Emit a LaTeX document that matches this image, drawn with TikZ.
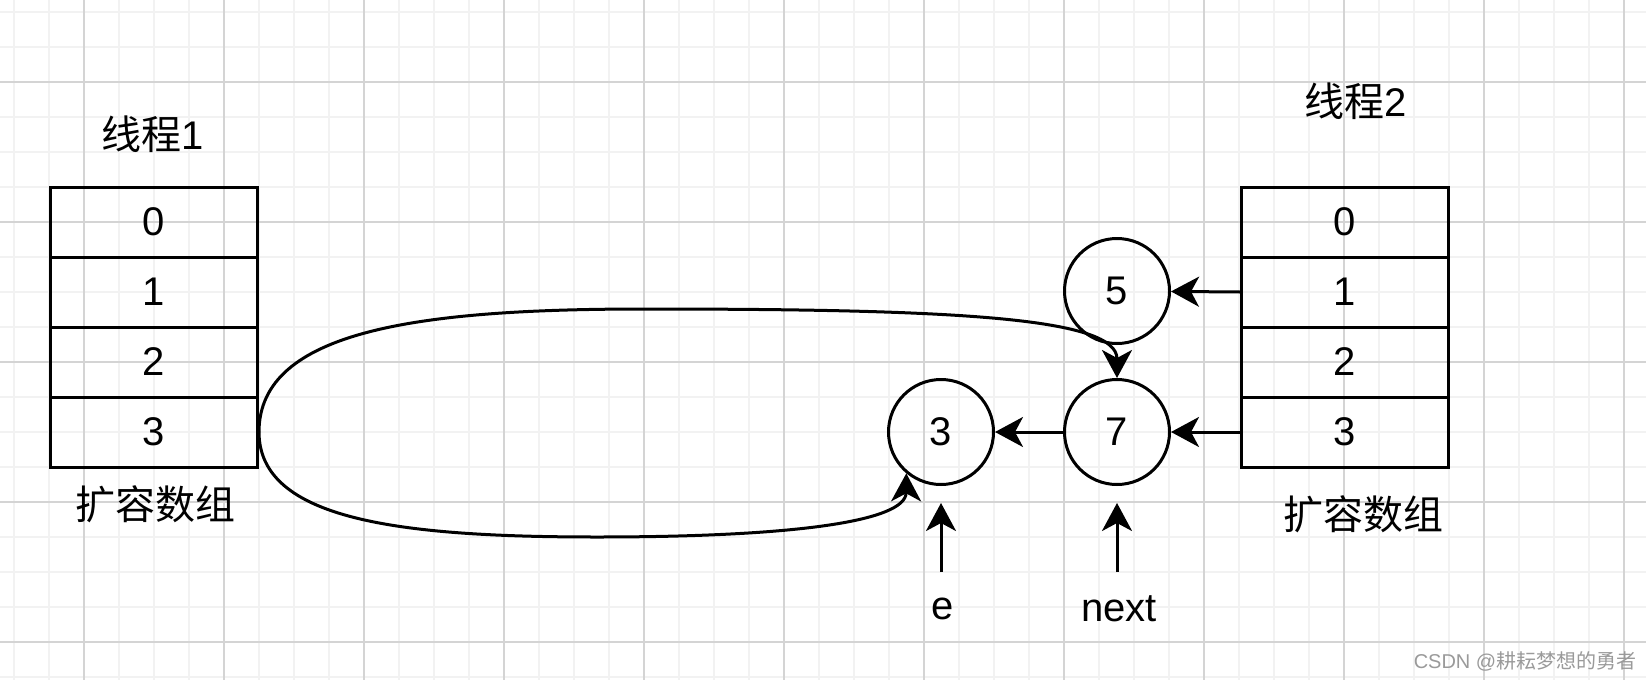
\documentclass[tikz,border=0pt]{standalone}
\usepackage{fontspec}
\setmainfont{Liberation Sans}
\newfontfamily\cjk{Noto Sans CJK SC}
\usetikzlibrary{arrows.meta}
\definecolor{minorgrid}{HTML}{F2F2F2}
\definecolor{majorgrid}{HTML}{D4D4D4}
\definecolor{wmgray}{HTML}{9A9A9A}
\begin{document}
\begin{tikzpicture}[x=1pt,y=-1pt,
  big/.style={font=\fontsize{40}{48}\selectfont},
  cell/.style={draw,line width=3pt,minimum width=207pt,minimum height=70pt,inner sep=0pt,big},
  ball/.style={circle,draw,line width=3pt,minimum size=105pt,inner sep=0pt,big},
  arr/.style={line width=3pt,-{Stealth[length=28pt,width=30pt,inset=8pt]}},
  lbl/.style={inner sep=0pt,big},
  minorline/.style={draw=minorgrid,line width=1.5pt},
  majorline/.style={draw=majorgrid,line width=1.2pt}]
\useasboundingbox (0,0) rectangle (1646,680);
\fill[white] (0,0) rectangle (1646,680);
% grid
\foreach \i in {0,...,46} \draw[minorline] (14+35*\i,0) -- (14+35*\i,680);
\foreach \j in {0,...,19} \draw[minorline] (0,12+35*\j) -- (1646,12+35*\j);
\foreach \i in {0,...,11} \draw[majorline] (84+140*\i,0) -- (84+140*\i,680);
\foreach \j in {0,...,4} \draw[majorline] (0,82+140*\j) -- (1646,82+140*\j);
% left array
\node[cell] (l0) at (154,222) {0};
\node[cell] (l1) at (154,292) {1};
\node[cell] (l2) at (154,362) {2};
\node[cell] (l3) at (154,432) {3};
\node[lbl] (t1) at (153,134) {{\cjk 线程}1};
\node[lbl] (k1) at (155,504) {\cjk 扩容数组};
% right array
\node[cell] (r0) at (1345,222) {0};
\node[cell] (r1) at (1345,292) {1};
\node[cell] (r2) at (1345,362) {2};
\node[cell] (r3) at (1345,432) {3};
\node[lbl] (t2) at (1356,101) {{\cjk 线程}2};
\node[lbl] (k2) at (1363,514) {\cjk 扩容数组};
% circles
\node[ball] (c5) at (1117,291) {5};
\node[ball] (c7) at (1117,432) {7};
\node[ball] (c3) at (941,432) {3};
% pointers
\node[lbl] (e) at (943,609) {e};
\node[lbl] (nx) at (1119,609) {next};
\coordinate (ebase) at (941,572);
\coordinate (etip) at (941,503);
\coordinate (nbase) at (1117,572);
\coordinate (ntip) at (1117,503);
\coordinate (topmid) at (645,309);
\coordinate (botmid) at (597,537);
% connectors
\draw[arr] (r1.west) -- (c5);
\draw[arr] (r3.west) -- (c7);
\draw[arr] (c7) -- (c3);
\draw[arr] (ebase) -- (etip);
\draw[arr] (nbase) -- (ntip);
\draw[arr] (l3.east) .. controls (259,330) and (420,309) .. (topmid)
  .. controls (960,309) and (1117,318) .. (c7.north);
\draw[arr] (l3.east) .. controls (259,520) and (400,537) .. (botmid)
  .. controls (790,537) and (906,522) .. (c3.-130);
% watermark
\node[inner sep=0pt,font=\fontsize{20}{24}\selectfont,text=wmgray] (wm) at (1525,661) {CSDN @{\cjk 耕耘梦想的勇者}};
\end{tikzpicture}
\end{document}
